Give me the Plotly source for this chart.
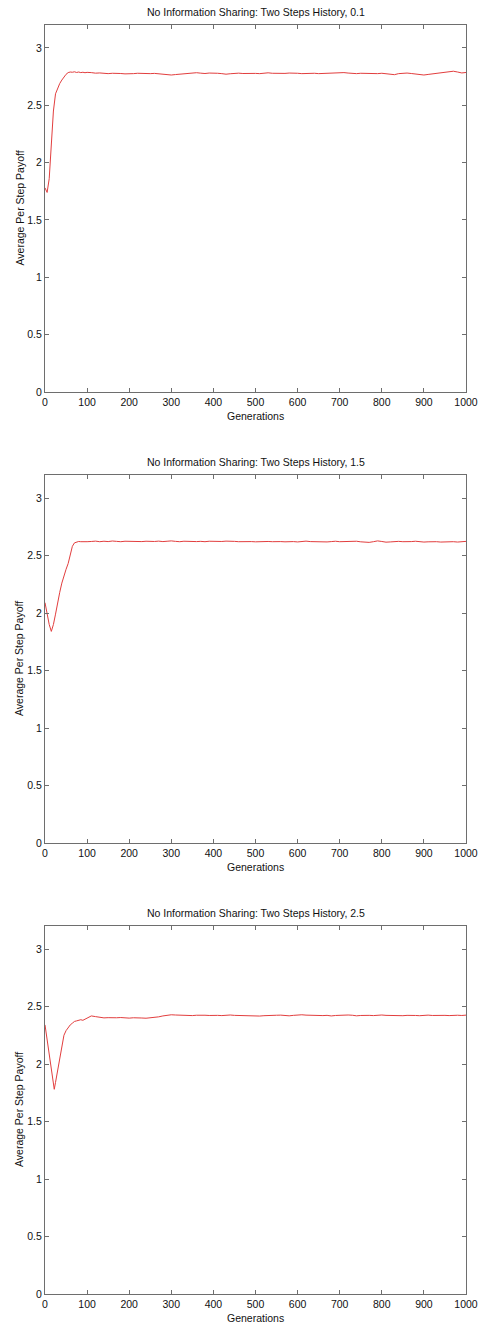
import plotly.graph_objects as go
from plotly.subplots import make_subplots

# ---------------- data ----------------
titles = [
    "No Information Sharing: Two Steps History, 0.1",
    "No Information Sharing: Two Steps History, 1.5",
    "No Information Sharing: Two Steps History, 2.5",
]

x_early = [0, 5, 10, 15, 20, 25, 30, 35, 40, 45, 50, 55, 60, 65, 70, 75, 80, 85, 90, 95, 100]
x_late = list(range(110, 1001, 10))

y1_early = [1.78, 1.74, 1.86, 2.12, 2.45, 2.60, 2.65, 2.69, 2.72, 2.75, 2.77, 2.785, 2.79,
            2.788, 2.792, 2.786, 2.79, 2.785, 2.788, 2.784, 2.787]
y1_late = [2.785, 2.78, 2.782, 2.778, 2.776, 2.779, 2.775, 2.777, 2.774, 2.778, 2.776, 2.779, 2.777, 2.78, 2.776,
           2.778, 2.774, 2.77, 2.766, 2.764, 2.768, 2.772, 2.776, 2.779, 2.782, 2.784, 2.78, 2.777, 2.781, 2.783,
           2.779, 2.776, 2.771, 2.775, 2.778, 2.78, 2.777, 2.779, 2.782, 2.778, 2.776, 2.78, 2.783, 2.779, 2.777,
           2.78, 2.778, 2.781, 2.777, 2.779, 2.776, 2.778, 2.781, 2.779, 2.776, 2.778, 2.78, 2.777, 2.779, 2.782,
           2.785, 2.781, 2.778, 2.776, 2.779, 2.777, 2.78, 2.778, 2.776, 2.779, 2.777, 2.774, 2.767, 2.776, 2.779,
           2.781, 2.777, 2.774, 2.766, 2.764, 2.769, 2.773, 2.776, 2.779, 2.784, 2.789, 2.797, 2.79, 2.782, 2.786]

y2_early = [2.09, 1.98, 1.90, 1.84, 1.90, 1.99, 2.10, 2.18, 2.26, 2.33, 2.38, 2.43, 2.52,
            2.58, 2.61, 2.618, 2.622, 2.62, 2.618, 2.622, 2.62]
y2_late = [2.622, 2.625, 2.62, 2.624, 2.621, 2.626, 2.623, 2.62, 2.624, 2.622, 2.619, 2.623, 2.621, 2.624, 2.62,
           2.622, 2.625, 2.621, 2.624, 2.627, 2.623, 2.62, 2.624, 2.622, 2.617, 2.621, 2.623, 2.62, 2.624, 2.622,
           2.619, 2.622, 2.625, 2.621, 2.623, 2.62, 2.622, 2.624, 2.621, 2.619, 2.622, 2.625, 2.622, 2.62, 2.623,
           2.621, 2.619, 2.623, 2.621, 2.618, 2.622, 2.625, 2.621, 2.619, 2.623, 2.62, 2.618, 2.621, 2.624, 2.62,
           2.622, 2.619, 2.621, 2.624, 2.619, 2.616, 2.614, 2.62, 2.627, 2.622, 2.616, 2.618, 2.621, 2.623, 2.62,
           2.618, 2.621, 2.624, 2.62, 2.617, 2.619, 2.622, 2.62, 2.617, 2.619, 2.622, 2.62, 2.617, 2.621, 2.623]

x3_early = [0, 5, 10, 15, 20, 22, 25, 30, 35, 40, 45, 50, 55, 60, 65, 70, 75, 80, 85, 90, 95, 100]
y3_early = [2.34, 2.21, 2.09, 1.96, 1.83, 1.78, 1.84, 1.95, 2.05, 2.16, 2.25, 2.29, 2.32, 2.34,
            2.355, 2.37, 2.375, 2.38, 2.385, 2.38, 2.39, 2.40]
y3_late = [2.418, 2.412, 2.404, 2.401, 2.403, 2.4, 2.402, 2.404, 2.401, 2.399, 2.402, 2.403, 2.4, 2.398, 2.401,
           2.404, 2.41, 2.418, 2.423, 2.428, 2.426, 2.424, 2.426, 2.423, 2.421, 2.424, 2.426, 2.424, 2.422, 2.425,
           2.423, 2.421, 2.424, 2.426, 2.423, 2.421, 2.424, 2.422, 2.418, 2.419, 2.417, 2.42, 2.423, 2.421, 2.424,
           2.425, 2.422, 2.419, 2.423, 2.426, 2.428, 2.425, 2.423, 2.426, 2.424, 2.421, 2.423, 2.418, 2.422, 2.425,
           2.423, 2.426, 2.424, 2.419, 2.422, 2.425, 2.423, 2.421, 2.424, 2.426, 2.423, 2.421, 2.424, 2.422, 2.42,
           2.423, 2.425, 2.422, 2.42, 2.423, 2.425, 2.422, 2.424, 2.426, 2.423, 2.421, 2.425, 2.424, 2.422, 2.425]

x_ticks = [0, 100, 200, 300, 400, 500, 600, 700, 800, 900, 1000]
y_ticks = [0, 0.5, 1, 1.5, 2, 2.5, 3]
y_ticklabels = ["0", "0.5", "1", "1.5", "2", "2.5", "3"]

series = [
    (x_early + x_late, y1_early + y1_late),
    (x_early + x_late, y2_early + y2_late),
    (x3_early + x_late, y3_early + y3_late),
]

# ---------------- figure ----------------
W, H = 479, 1325
L_px, R_px = 45, 466           # pixel left/right of axes boxes
boxes = [(25, 392), (475, 843), (926, 1294)]  # pixel top/bottom of each axes box
ML = L_px
MR = W - R_px
MT = boxes[0][0]
MB = H - boxes[-1][1]
plot_h = H - MT - MB


def dom(top, bottom):
    base = boxes[-1][1]
    return [(base - bottom) / plot_h, (base - top) / plot_h]


fig = make_subplots(rows=3, cols=1)
font = "Liberation Sans, Arial, sans-serif"
axis_col = "#6e6e6e"
txt_col = "#111"

for i, ((xs, ys), title, box) in enumerate(zip(series, titles, boxes), start=1):
    fig.add_trace(go.Scatter(x=xs, y=ys, mode="lines",
                             line=dict(color="rgb(226,62,62)", width=1),
                             showlegend=False, hoverinfo="skip"), row=i, col=1)
    d = dom(*box)
    fig.update_xaxes(row=i, col=1, range=[0, 1000], tickvals=x_ticks, automargin=False,
                     ticks="inside", ticklen=4, tickcolor=axis_col, mirror="ticks",
                     showline=True, linecolor=axis_col, linewidth=1, showgrid=False, zeroline=False,
                     tickfont=dict(family=font, size=10.5, color=txt_col))
    fig.update_yaxes(row=i, col=1, range=[0, 3.2], tickvals=y_ticks, ticktext=y_ticklabels,
                     domain=d, automargin=False,
                     ticks="inside", ticklen=4, tickcolor=axis_col, mirror="ticks",
                     showline=True, linecolor=axis_col, linewidth=1, showgrid=False, zeroline=False,
                     tickfont=dict(family=font, size=10.5, color=txt_col))
    fig.add_annotation(text=title, xref="paper", yref="paper", x=0.5, y=d[1],
                       xanchor="center", yanchor="bottom", yshift=5, showarrow=False,
                       font=dict(family=font, size=10.5, color=txt_col))
    fig.add_annotation(text="Generations", xref="paper", yref="paper", x=0.5, y=d[0],
                       xanchor="center", yanchor="top", yshift=-16, showarrow=False,
                       font=dict(family=font, size=10.5, color=txt_col))
    fig.add_annotation(text="Average Per Step Payoff", xref="paper", yref="paper", x=0, y=(d[0] + d[1]) / 2,
                       xanchor="right", yanchor="middle", xshift=-18, textangle=-90, showarrow=False,
                       font=dict(family=font, size=10.5, color=txt_col))

fig.update_layout(width=W, height=H, margin=dict(l=ML, r=MR, t=MT, b=MB),
                  paper_bgcolor="white", plot_bgcolor="white", hovermode=False)

# remove the browser's default 8px body margin so the figure fills the window exactly
fig.write_html("out.html", config={"displayModeBar": False, "staticPlot": True},
               post_script="document.body.style.margin='0';document.body.style.overflow='hidden';")
